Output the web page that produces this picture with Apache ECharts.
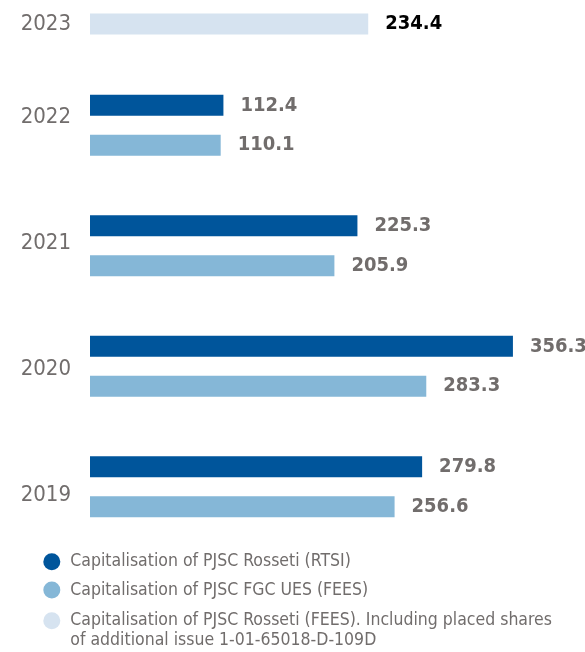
<!DOCTYPE html>
<html>
<head>
<meta charset="utf-8">
<script src="https://cdn.jsdelivr.net/npm/echarts@6/dist/echarts.min.js"></script>
<style>
html,body{margin:0;padding:0;background:#fff;}
#chart{width:585px;height:652px;}
</style>
</head>
<body>
<div id="chart"></div>
<script>
// ---- data ----
const topYear = ['2023'];
const years = ['2019', '2020', '2021', '2022'];
const rossetiRTSI = [279.8, 356.3, 225.3, 112.4];
const fgcFEES = [256.6, 283.3, 205.9, 110.1];
const rossetiFEES = [234.4];
const seriesNames = [
  'Capitalisation of PJSC Rosseti (RTSI)',
  'Capitalisation of PJSC FGC UES (FEES)',
  'Capitalisation of PJSC Rosseti (FEES). Including placed shares\nof additional issue 1-01-65018-D-109D'
];

const FONT = "'DejaVu Sans Condensed', 'DejaVu Sans', sans-serif";
const GRAY = '#716d6c';
const C_DARK = '#00559b';
const C_MID = '#85b7d7';
const C_LIGHT = '#d6e3f0';
const X_MAX = 400;
const GRID_W = 474.8;

const valueLabel = (color) => ({
  show: true, position: 'right', distance: 17,
  fontFamily: FONT, fontWeight: 'bold', fontSize: 20, color: color
});

const hiddenX = (gi) => ({
  type: 'value', gridIndex: gi, min: 0, max: X_MAX, show: false
});

const legendText = {fontFamily: FONT, fontSize: 17.5, lineHeight: 20, color: GRAY};

const chart = echarts.init(document.getElementById('chart'), null, {renderer: 'canvas'});
chart.setOption({
  animation: false,
  grid: [
    {left: 90, top: 4, height: 40, width: GRID_W},
    {left: 90, top: 65, height: 482, width: GRID_W},
    {left: 90, top: 54, height: 504, width: GRID_W}
  ],
  xAxis: [hiddenX(0), hiddenX(1), hiddenX(2)],
  yAxis: [
    {type: 'category', gridIndex: 0, data: topYear,
     axisLine: {show: false}, axisTick: {show: false},
     axisLabel: {margin: 19, fontFamily: FONT, fontSize: 22, color: GRAY}},
    {type: 'category', gridIndex: 1, data: years,
     axisLine: {show: false}, axisTick: {show: false}, axisLabel: {show: false}},
    {type: 'category', gridIndex: 2, data: years,
     axisLine: {show: false}, axisTick: {show: false},
     axisLabel: {margin: 19, fontFamily: FONT, fontSize: 22, color: GRAY}}
  ],
  legend: [
    {
      orient: 'vertical', left: 43.3, top: 551.7, padding: 0,
      itemWidth: 27, itemHeight: 17, itemGap: 8.3, icon: 'circle',
      textStyle: legendText,
      data: [seriesNames[0], seriesNames[1]]
    },
    {
      orient: 'vertical', left: 43.3, top: 590.7, padding: 0,
      itemWidth: 27, itemHeight: 17, icon: 'circle',
      textStyle: Object.assign({}, legendText, {
        rich: {
          p: {fontFamily: FONT, fontSize: 17.5, lineHeight: 20},
          t: {fontFamily: FONT, fontSize: 17.5, lineHeight: 20, color: GRAY}
        }
      }),
      formatter: (name) => '{p| }\n' + name.split('\n').map(s => '{t|' + s + '}').join('\n'),
      data: [seriesNames[2]]
    }
  ],
  series: [
    {
      name: seriesNames[0], type: 'bar', xAxisIndex: 1, yAxisIndex: 1,
      data: rossetiRTSI, barWidth: 21, barGap: '90%',
      itemStyle: {color: C_DARK}, label: valueLabel(GRAY)
    },
    {
      name: seriesNames[1], type: 'bar', xAxisIndex: 1, yAxisIndex: 1,
      data: fgcFEES, barWidth: 21, barGap: '90%',
      itemStyle: {color: C_MID}, label: valueLabel(GRAY)
    },
    {
      name: seriesNames[2], type: 'bar', xAxisIndex: 0, yAxisIndex: 0,
      data: rossetiFEES, barWidth: 21,
      itemStyle: {color: C_LIGHT}, label: valueLabel('#000000')
    }
  ]
});
</script>
</body>
</html>
